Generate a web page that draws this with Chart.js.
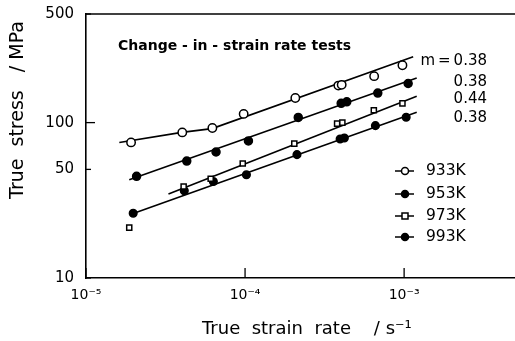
<!DOCTYPE html>
<html>
<head>
<meta charset="utf-8">
<script src="https://cdn.jsdelivr.net/npm/chart.js@4.4.1/dist/chart.umd.min.js"></script>
<style>
  html, body { margin: 0; padding: 0; background: #fff; overflow: hidden; }
  /* canvas is a little wider than the frame: chart.js keeps ~6px free at the right,
     and the original axis runs right up to the picture edge */
  #wrap { width: 515px; height: 341px; overflow: hidden; }
</style>
</head>
<body>
<div id="wrap"><canvas id="chart" width="521" height="341"></canvas></div>
<script>
// strain rate (1/s) and true stress (MPa)
const rate933 = [1.92e-5, 4.03e-5, 6.23e-5, 9.8e-5, 2.07e-4, 3.86e-4, 4.05e-4, 6.48e-4, 9.76e-4];
const stress933 = [74.6, 86.5, 92.4, 113.8, 144, 173, 175, 199, 234];
const rate953 = [2.08e-5, 4.3e-5, 6.57e-5, 1.05e-4, 2.16e-4, 4.02e-4, 4.36e-4, 6.83e-4, 1.06e-3];
const stress953 = [45.1, 56.6, 64.7, 76.2, 108, 133, 136, 155, 178.5];
const rate973 = [1.87e-5, 4.11e-5, 6.08e-5, 9.67e-5, 2.04e-4, 3.79e-4, 4.09e-4, 6.45e-4, 9.76e-4];
const stress973 = [21.1, 38.8, 43.5, 54.6, 73.2, 98.5, 100, 120, 133];
const rate993 = [1.98e-5, 4.15e-5, 6.32e-5, 1.02e-4, 2.12e-4, 3.96e-4, 4.21e-4, 6.6e-4, 1.03e-3];
const stress993 = [26.1, 36.4, 41.8, 46.2, 62.2, 78.5, 79.6, 95.6, 108.2];

// fitted lines
const fitRate933 = [1.62e-5, 4.0e-5, 6.2e-5, 1.14e-3];
const fitStress933 = [74.5, 86.5, 91.5, 265];
const fitRate953 = [1.87e-5, 1.2e-3];
const fitStress953 = [42.9, 194];
const fitRate973 = [3.3e-5, 1.2e-3];
const fitStress973 = [34.7, 147.8];
const fitRate993 = [1.94e-5, 1.2e-3];
const fitStress993 = [25.8, 116.5];

const temps = ["933K", "953K", "973K", "993K"];
const mValues = ["m\u2009=\u20090.38", "0.38", "0.44", "0.38"];
const yLabels = [10, 50, 100, 500];
const xLabels = { "-5": "10⁻⁵", "-4": "10⁻⁴", "-3": "10⁻³" };

const FONT = "'DejaVu Sans', sans-serif";
const pts = (xs, ys) => xs.map((x, i) => ({ x, y: ys[i] }));

const styles = [
  { pointStyle: "circle", fill: "#fff", r: 4.2 },
  { pointStyle: "circle", fill: "#000", r: 4 },
  { pointStyle: "rect", fill: "#fff", r: 3.6 },
  { pointStyle: "circle", fill: "#000", r: 3.8 },
];

function markers(xs, ys, s) {
  return {
    data: pts(xs, ys),
    showLine: false,
    pointStyle: s.pointStyle,
    pointRadius: s.r,
    pointBackgroundColor: s.fill,
    pointBorderColor: "#000",
    pointBorderWidth: 1.5,
    order: 0,
  };
}
function fit(xs, ys) {
  return {
    data: pts(xs, ys),
    showLine: true,
    borderColor: "#000",
    borderWidth: 1.6,
    pointRadius: 0,
    tension: 0,
    order: 1,
  };
}

const isDecade = (v) => Math.abs(Math.log10(v) - Math.round(Math.log10(v))) < 1e-6;

const noPadding = (s) => {
  s.paddingLeft = 0;
  s.paddingRight = 0;
  s.paddingTop = 0;
  s.paddingBottom = 0;
};

const decorations = {
  id: "decorations",
  afterDraw(chart) {
    const { ctx, chartArea: a, scales } = chart;
    const x = scales.x, y = scales.y;
    ctx.save();
    ctx.strokeStyle = "#000";
    ctx.lineWidth = 1.6;
    // top frame line
    ctx.beginPath();
    ctx.moveTo(a.left, a.top);
    ctx.lineTo(a.right, a.top);
    ctx.stroke();
    // inward ticks
    ctx.lineWidth = 1.3;
    x.ticks.forEach((t) => {
      const px = x.getPixelForValue(t.value);
      const len = isDecade(t.value) ? 10 : 6;
      ctx.beginPath();
      ctx.moveTo(px, a.bottom);
      ctx.lineTo(px, a.bottom - len);
      ctx.stroke();
    });
    y.ticks.forEach((t) => {
      const py = y.getPixelForValue(t.value);
      const len = t.value === 100 ? 9 : 5;
      ctx.beginPath();
      ctx.moveTo(a.left, py);
      ctx.lineTo(a.left + len, py);
      ctx.stroke();
    });

    ctx.fillStyle = "#000";
    ctx.textBaseline = "middle";

    // axis titles
    ctx.font = "18px " + FONT;
    ctx.textAlign = "left";
    ctx.fillText("True  strain  rate    / s⁻¹", 202, 329);
    ctx.save();
    ctx.translate(18, 110);
    ctx.rotate(-Math.PI / 2);
    ctx.font = "19px " + FONT;
    ctx.textAlign = "center";
    ctx.fillText("True  stress   / MPa", 0, 0);
    ctx.restore();

    // annotation texts
    ctx.font = "bold 14px " + FONT;
    ctx.textAlign = "left";
    ctx.fillText("Change - in - strain rate tests", 118, 46);

    ctx.font = "15px " + FONT;
    ctx.textAlign = "right";
    const mY = [61, 82, 99, 118];
    mValues.forEach((m, i) => ctx.fillText(m, 487, mY[i]));

    // legend
    const legY = [171, 194, 216, 237];
    ctx.font = "15.5px " + FONT;
    ctx.textAlign = "left";
    temps.forEach((t, i) => {
      const s = styles[i];
      ctx.lineWidth = 1.5;
      ctx.beginPath();
      ctx.moveTo(395, legY[i]);
      ctx.lineTo(414, legY[i]);
      ctx.stroke();
      ctx.fillStyle = s.fill;
      ctx.beginPath();
      if (s.pointStyle === "rect") {
        ctx.rect(405 - 3, legY[i] - 3, 6, 6);
      } else {
        ctx.arc(405, legY[i], 3.5, 0, Math.PI * 2);
      }
      ctx.fill();
      ctx.stroke();
      ctx.fillStyle = "#000";
      ctx.fillText(t, 426, legY[i]);
    });
    ctx.restore();
  },
};

new Chart(document.getElementById("chart"), {
  type: "scatter",
  data: {
    datasets: [
      markers(rate933, stress933, styles[0]),
      markers(rate953, stress953, styles[1]),
      markers(rate973, stress973, styles[2]),
      markers(rate993, stress993, styles[3]),
      fit(fitRate933, fitStress933),
      fit(fitRate953, fitStress953),
      fit(fitRate973, fitStress973),
      fit(fitRate993, fitStress993),
    ],
  },
  options: {
    responsive: false,
    animation: false,
    devicePixelRatio: 1,
    layout: { padding: { top: 14, right: 0, left: 0, bottom: 0 } },
    plugins: { legend: { display: false }, tooltip: { enabled: false } },
    scales: {
      x: {
        type: "logarithmic",
        min: 1e-5,
        max: 5e-3,
        afterFit: (s) => { s.height = 63; noPadding(s); },
        grid: { display: false, drawTicks: false },
        border: { display: true, color: "#000", width: 1.6 },
        ticks: {
          autoSkip: false,
          maxRotation: 0,
          padding: 9,
          color: "#000",
          font: { family: FONT, size: 14 },
          callback: (v) => (isDecade(v) ? xLabels[String(Math.round(Math.log10(v)))] : null),
        },
      },
      y: {
        type: "logarithmic",
        min: 10,
        max: 500,
        afterFit: (s) => { s.width = 86; noPadding(s); },
        grid: { display: false, drawTicks: false },
        border: { display: true, color: "#000", width: 1.6 },
        ticks: {
          autoSkip: false,
          padding: 12,
          color: "#000",
          font: { family: FONT, size: 15 },
          callback: (v) => (yLabels.some((l) => Math.abs(l - v) < 1e-6) ? String(Math.round(v)) : null),
        },
      },
    },
  },
  plugins: [decorations],
});
</script>
</body>
</html>
